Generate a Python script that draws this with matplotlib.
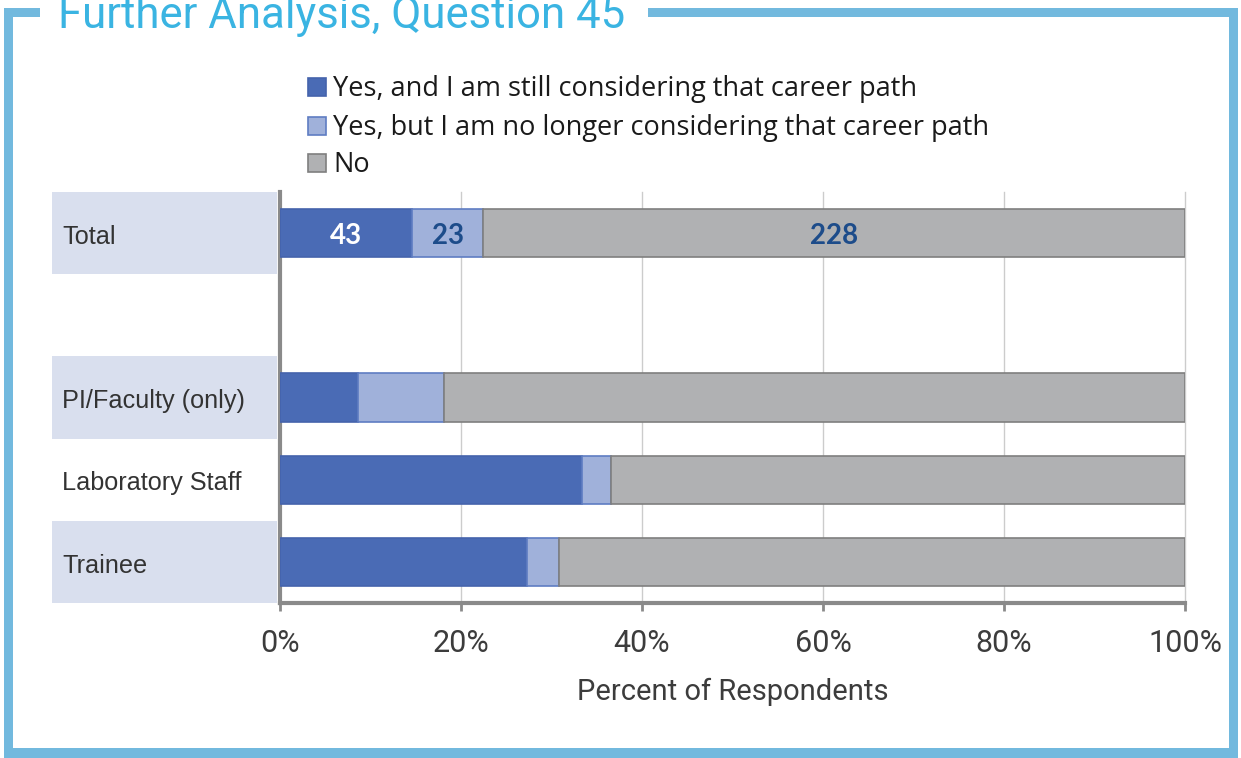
import matplotlib
matplotlib.use("Agg")
import matplotlib.pyplot as plt
from matplotlib.patches import Rectangle
from matplotlib.transforms import blended_transform_factory

# survey answers
series_names = [
    "Yes, and I am still considering that career path",
    "Yes, but I am no longer considering that career path",
    "No",
]
categories = ["Trainee", "Laboratory Staff", "PI/Faculty (only)", "Total"]
positions = [0, 1, 2, 4]

# total row given as respondent counts
total_counts = [43, 23, 228]

# group rows given as percent of respondents
trainee_pct = [27.3, 3.5, 69.2]
staff_pct = [33.4, 3.2, 63.4]
faculty_pct = [8.6, 9.5, 81.9]

xticks = [0, 20, 40, 60, 80, 100]
xtick_labels = ["0%", "20%", "40%", "60%", "80%", "100%"]

fill_colors = ["#4A6BB5", "#A0B1DA", "#B0B1B3"]
edge_colors = ["#4563AC", "#5F7DC2", "#7F7F7F"]
value_colors = ["white", "#1D4C8A", "#1D4C8A"]
band_color = "#D9DFEE"
frame_color = "#72B9DE"
title_color = "#3AB4E2"

W, H = 1241, 758


def fx(x):
    return x / W


def fy(y):
    return 1 - y / H


total_pct = [c / sum(total_counts) * 100 for c in total_counts]
rows = [trainee_pct, staff_pct, faculty_pct, total_pct]

fig = plt.figure(figsize=(W / 100, H / 100), dpi=100)
fig.patch.set_facecolor("white")

# blue frame around the chart
frame = [
    (4, 8, 13, 758),
    (4, 8, 40, 17),
    (648, 8, 1238, 17),
    (1229, 8, 1238, 758),
    (4, 748, 1238, 758),
]
for x0, y0, x1, y1 in frame:
    fig.patches.append(Rectangle((fx(x0), fy(y1)), fx(x1 - x0), (y1 - y0) / H,
                                 transform=fig.transFigure, color=frame_color, lw=0))

fig.text(fx(58), fy(28), "Further Analysis, Question 45", color=title_color,
         fontsize=31.5, family="Roboto", va="baseline", ha="left")

ax = fig.add_axes([fx(280), fy(603), (1185 - 280) / W, (603 - 192) / H])

lefts = [0] * len(rows)
for i in range(3):
    vals = [r[i] for r in rows]
    ax.barh(positions, vals, left=lefts, height=0.585, color=fill_colors[i],
            edgecolor=edge_colors[i], linewidth=1.2, zorder=3, label=series_names[i])
    lefts = [l + v for l, v in zip(lefts, vals)]

# counts printed on the total row
left = 0
for i, (cnt, pct) in enumerate(zip(total_counts, total_pct)):
    ax.text(left + pct / 2, positions[-1] - 0.03, str(cnt), ha="center", va="center",
            color=value_colors[i], fontsize=20, fontweight="bold",
            family="Lato", zorder=4)
    left += pct

ax.set_xlim(0, 100)
ax.set_ylim(-0.5, 4.5)
ax.set_xticks(xticks)
ax.set_xticklabels(xtick_labels, family="Roboto", fontsize=22, color="#3C3C3C")
ax.set_yticks([])
ax.tick_params(axis="x", length=6, width=2, color="#8A8A8A", pad=13)
ax.grid(axis="x", color="#CCCCCC", linewidth=1, zorder=0)
for gl in ax.get_xgridlines():
    gl.set_clip_on(False)
for s in ["top", "right"]:
    ax.spines[s].set_visible(False)
for s in ["left", "bottom"]:
    ax.spines[s].set_color("#8A8A8A")
    ax.spines[s].set_linewidth(3)
ax.set_xlabel("Percent of Respondents", family="Roboto",
              fontsize=21, color="#3C3C3C", labelpad=14)

# category labels on shaded bands
trans = blended_transform_factory(fig.transFigure, ax.transData)
for cat, pos in zip(categories, positions):
    if cat != "Laboratory Staff":
        ax.add_patch(Rectangle((fx(52), pos - 0.5), fx(277 - 52), 1.0,
                               transform=trans, color=band_color, lw=0,
                               clip_on=False, zorder=0))
    ax.text(fx(62), pos - 0.045, cat, transform=trans, ha="left", va="center",
            fontsize=18.2, family="Liberation Sans", color="#333333")

# legend
for j, (name, y) in enumerate(zip(series_names, [87, 126, 163])):
    fig.patches.append(Rectangle((fx(308), fy(y + 9)), fx(18), 18 / H,
                                 transform=fig.transFigure, facecolor=fill_colors[j],
                                 edgecolor=edge_colors[j], lw=1.2))
    fig.text(fx(333), fy(y + 2), name, ha="left", va="center", fontsize=19.5,
             family="Open Sans", color="#1A1A1A")

fig.savefig("out.png", dpi=100)
